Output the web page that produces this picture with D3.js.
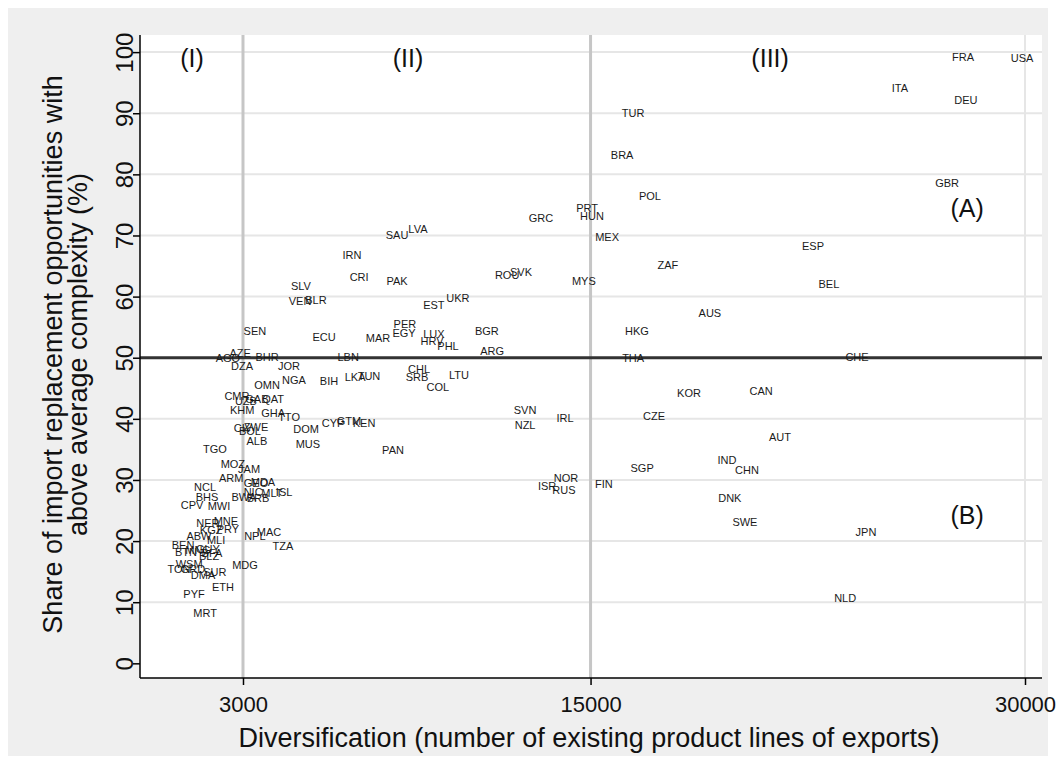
<!DOCTYPE html>
<html>
<head>
<meta charset="utf-8">
<script src="https://cdn.jsdelivr.net/npm/d3@7"></script>
<style>
body{margin:0;background:#fff}
text{font-family:"Liberation Sans",Arial,Helvetica,sans-serif;fill:#111}
</style>
</head>
<body>
<svg id="chart" width="1056" height="764"></svg>
<script>
// country codes, number of product lines exported, share (%) of import replacement opps above avg complexity
var codes=["FRA","USA","ITA","DEU","GBR","ESP","BEL","AUS","HKG","THA","CHE","KOR","CAN","CZE","AUT","IND","CHN","SGP","DNK","SWE","JPN","NLD",
 "TUR","BRA","POL","ZAF","MEX","PRT","HUN","GRC","MYS","FIN","NOR","ISR","RUS","IRL","SVN","NZL","ROU","SVK","BGR","ARG","UKR","EST","LTU","COL",
 "CHL","SRB","PHL","HRV","LUX","PER","EGY","LVA","SAU","PAK","IRN","CRI","PAN","MAR","SLV","VEN","BLR","SEN","ECU","LBN","AZE","AGO","BHR","DZA",
 "JOR","OMN","NGA","BIH","LKA","TUN","CMR","UZB","GAB","QAT","KHM","GHA","TTO","CYP","GTM","KEN","DOM","CIV","ZWE","BOL","ALB","MUS","TGO","MOZ",
 "JAM","ARM","GEO","MDA","NCL","BHS","CPV","MWI","BWA","NIC","BRB","MLT","ISL","NER","MNE","KGZ","PRY","ABW","MLI","NPL","MAC","TZA","BEN","BTN",
 "MNG","GUY","BFA","BLZ","MDG","TON","WSM","GRD","SUR","DMA","ETH","PYF","MRT"];
var lines=[27860,29900,25680,27960,27310,22680,23230,19120,16600,16470,24200,18400,20890,17190,21540,19710,20400,16780,19810,20330,24510,23790,
 16470,16090,17050,17670,15570,14880,15050,13290,14770,15460,14150,13500,14080,14120,12740,12740,12120,12600,11420,11600,10420,9590,10460,9730,
 9080,9010,10080,9530,9590,8590,8560,9040,8320,8320,6760,7010,8180,7660,5000,4970,5520,3410,5800,6630,2900,2480,3830,2970,
 4590,3830,4760,5970,6870,7350,2790,3100,3480,4040,2970,4040,4590,6110,6660,7180,5180,3000,3450,3240,3480,5240,2030,2650,
 3210,2590,3450,3690,1690,1760,1240,2170,3030,3350,3520,4000,4420,1790,2410,1900,2480,1480,2070,3410,3900,4380,930,1030,
 1450,1790,1930,1830,3070,790,1140,1270,2030,1620,2310,1310,1690];
var share=[99.2,99.1,94.2,92.2,78.6,68.3,62.1,57.3,54.4,49.9,50.1,44.2,44.5,40.4,37.0,33.2,31.6,31.9,27.0,23.1,21.4,10.7,
 90.1,83.2,76.5,65.2,69.8,74.5,73.2,72.8,62.5,29.3,30.3,29.0,28.4,40.2,41.5,39.0,63.6,64.0,54.4,51.1,59.8,58.6,47.2,45.2,
 48.2,46.9,51.9,52.7,53.9,55.5,54.0,71.1,70.1,62.6,66.8,63.2,34.9,53.2,61.7,59.3,59.4,54.4,53.4,50.1,50.8,50.0,50.1,48.6,
 48.6,45.5,46.3,46.2,46.8,47.0,43.7,42.9,43.2,43.2,41.4,41.0,40.3,39.3,39.6,39.3,38.3,38.5,38.6,38.0,36.4,35.9,35.1,32.6,
 31.8,30.3,29.5,29.7,28.8,27.2,25.9,25.7,27.2,28.0,27.0,27.8,28.1,23.0,23.2,21.8,22.0,20.8,20.2,20.8,21.5,19.2,19.4,18.2,
 18.5,18.7,18.0,17.6,16.1,15.5,16.3,15.5,15.0,14.5,12.5,11.3,8.2];

var xTicks=[3000,15000,30000];
var yTicks=[0,10,20,30,40,50,60,70,80,90,100];
var xLines=[3000,15000];
var yLine=50;
var regions=[{t:"(I)",x:1240,y:99.1},{t:"(II)",x:8700,y:99.1},{t:"(III)",x:21200,y:99.1},{t:"(A)",x:28000,y:74.5},{t:"(B)",x:28000,y:24.3}];

var pL=140, pR=1042, pT=35, pB=678;
var svg=d3.select("#chart");

// outer gray frame and white plot region
svg.append("rect").attr("x",8).attr("y",8).attr("width",1040).attr("height",748).attr("fill","#efefef");
svg.append("rect").attr("x",pL).attr("y",pT).attr("width",pR-pL).attr("height",pB-pT).attr("fill","#fff");

var x=d3.scaleLinear().domain([-556,30587]).range([pL,pR]);
var y=d3.scaleLinear().domain([-2.4,102.8]).range([pB,pT]);

// grid
svg.append("g").selectAll("line").data(yTicks.filter(function(d){return d>0;})).enter().append("line")
  .attr("x1",pL).attr("x2",pR).attr("y1",function(d){return y(d);}).attr("y2",function(d){return y(d);})
  .attr("stroke","#e6e6e6").attr("stroke-width",2);
svg.append("line").attr("x1",x(30000)).attr("x2",x(30000)).attr("y1",pT).attr("y2",pB)
  .attr("stroke","#e6e6e6").attr("stroke-width",2);

// reference lines
svg.append("g").selectAll("line").data(xLines).enter().append("line")
  .attr("x1",function(d){return x(d);}).attr("x2",function(d){return x(d);}).attr("y1",pT).attr("y2",pB)
  .attr("stroke","#c6c6c6").attr("stroke-width",3);
svg.append("line").attr("x1",pL).attr("x2",pR).attr("y1",y(yLine)).attr("y2",y(yLine))
  .attr("stroke","#333").attr("stroke-width",3);

// country labels
svg.append("g").selectAll("text").data(codes).enter().append("text")
  .attr("x",function(d,i){return x(lines[i]);})
  .attr("y",function(d,i){return y(share[i]);})
  .attr("dy","0.36em")
  .attr("text-anchor","middle")
  .attr("font-size",11)
  .style("fill","#1a1a1a")
  .text(function(d){return d;});

// region markers
svg.append("g").selectAll("text").data(regions).enter().append("text")
  .attr("x",function(d){return x(d.x);}).attr("y",function(d){return y(d.y);})
  .attr("dy","0.36em").attr("text-anchor","middle").attr("font-size",25)
  .text(function(d){return d.t;});

// axes
var yAxis=d3.axisLeft(y).tickValues(yTicks).tickSize(7).tickFormat(d3.format("d"));
var gy=svg.append("g").attr("transform","translate("+pL+",0)").call(yAxis);
gy.attr("font-family",null).attr("font-size",null);
gy.select(".domain").attr("d","M0,"+pT+"V"+pB).attr("stroke","#000").attr("stroke-width",1.5);
gy.selectAll(".tick line").attr("stroke","#000").attr("stroke-width",1.5);
gy.selectAll(".tick text").attr("transform","rotate(-90)").attr("x",0).attr("y",-7).attr("dy",0)
  .attr("text-anchor","middle").attr("font-size",24).style("fill","#111");

var xAxis=d3.axisBottom(x).tickValues(xTicks).tickSize(7).tickFormat(d3.format("d"));
var gx=svg.append("g").attr("transform","translate(0,"+pB+")").call(xAxis);
gx.attr("font-family",null).attr("font-size",null);
gx.select(".domain").attr("d","M"+pL+",0H"+pR).attr("stroke","#000").attr("stroke-width",1.5);
gx.selectAll(".tick line").attr("stroke","#000").attr("stroke-width",1.5);
gx.selectAll(".tick text").attr("y",18).attr("dy","0.71em").attr("font-size",22).style("fill","#111");

// axis titles
svg.append("text").attr("x",(pL+pR)/2-2).attr("y",747).attr("text-anchor","middle").attr("font-size",27)
  .text("Diversification (number of existing product lines of exports)");
var yt=svg.append("text").attr("transform","translate(62,"+((pT+pB)/2-2)+") rotate(-90)").attr("text-anchor","middle").attr("font-size",27);
yt.append("tspan").attr("x",0).attr("y",0).text("Share of import replacement opportunities with");
yt.append("tspan").attr("x",0).attr("y",25).text("above average complexity (%)");
</script>
</body>
</html>
